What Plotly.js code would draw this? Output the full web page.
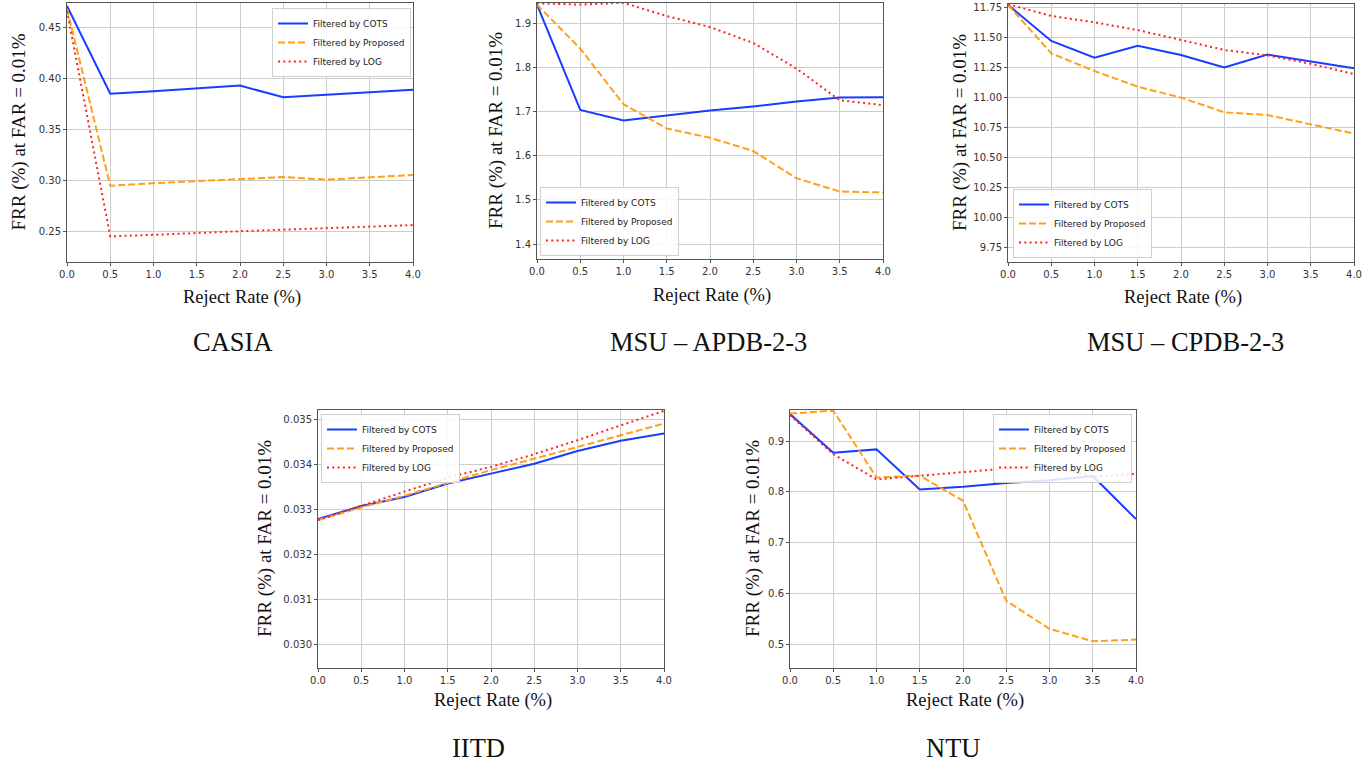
<!DOCTYPE html>
<html>
<head>
<meta charset="utf-8">
<script src="https://cdn.plot.ly/plotly-3.0.1.min.js"></script>
<style>html,body{margin:0;padding:0;background:#fff;}#chart{width:1372px;height:763px;}</style>
</head>
<body>
<div id="chart"></div>
<script>
// ---- data ----
const rejectRate = [0, 0.5, 1.0, 1.5, 2.0, 2.5, 3.0, 3.5, 4.0];
const seriesNames = ["Filtered by COTS", "Filtered by Proposed", "Filtered by LOG"];
const panelTitles = ["CASIA", "MSU – APDB-2-3", "MSU – CPDB-2-3", "IITD", "NTU"];

const casiaCOTS     = [0.471, 0.385, 0.3875, 0.390, 0.393, 0.3815, 0.384, 0.3865, 0.389];
const casiaProposed = [0.468, 0.295, 0.2975, 0.2995, 0.3015, 0.3035, 0.301, 0.303, 0.3055];
const casiaLOG      = [0.466, 0.2455, 0.247, 0.249, 0.2505, 0.252, 0.2535, 0.255, 0.2565];

const apdbCOTS     = [1.943, 1.704, 1.680, 1.691, 1.703, 1.712, 1.723, 1.732, 1.733];
const apdbProposed = [1.943, 1.843, 1.717, 1.662, 1.641, 1.611, 1.549, 1.519, 1.517];
const apdbLOG      = [1.946, 1.943, 1.947, 1.917, 1.892, 1.856, 1.798, 1.726, 1.715];

const cpdbCOTS     = [11.77, 11.47, 11.33, 11.43, 11.353, 11.25, 11.357, 11.303, 11.243];
const cpdbProposed = [11.77, 11.367, 11.22, 11.09, 10.999, 10.877, 10.854, 10.78, 10.70];
const cpdbLOG      = [11.775, 11.678, 11.625, 11.56, 11.478, 11.395, 11.35, 11.28, 11.195];

const iitdCOTS     = [0.03278, 0.03307, 0.03327, 0.03357, 0.03379, 0.03401, 0.03429, 0.03452, 0.03468];
const iitdProposed = [0.03276, 0.03304, 0.03330, 0.03358, 0.03387, 0.03412, 0.03438, 0.03463, 0.03490];
const iitdLOG      = [0.03276, 0.03308, 0.03339, 0.03370, 0.03394, 0.03422, 0.03453, 0.03486, 0.03518];

const ntuCOTS     = [0.953, 0.877, 0.8836, 0.805, 0.810, 0.8174, 0.823, 0.831, 0.7466];
const ntuProposed = [0.954, 0.9597, 0.8285, 0.832, 0.7826, 0.586, 0.531, 0.5066, 0.5098];
const ntuLOG      = [0.951, 0.874, 0.8246, 0.832, 0.838, 0.846, 0.8515, 0.830, 0.8357];

const yTicks = {
  casia: [0.25, 0.30, 0.35, 0.40, 0.45],
  apdb: [1.4, 1.5, 1.6, 1.7, 1.8, 1.9],
  cpdb: [9.75, 10.00, 10.25, 10.50, 10.75, 11.00, 11.25, 11.50, 11.75],
  iitd: [0.030, 0.031, 0.032, 0.033, 0.034, 0.035],
  ntu: [0.5, 0.6, 0.7, 0.8, 0.9]
};
const xTicks = [0, 0.5, 1.0, 1.5, 2.0, 2.5, 3.0, 3.5, 4.0];

// ---- layout helpers ----
const W = 1372, H = 763;
const colors = ["#1a3cff", "#ffa01a", "#ff2020"];
const dashes = ["solid", "7px,3px", "2px,3.3px"];

const panels = [
  {key:"casia", data:[casiaCOTS, casiaProposed, casiaLOG], px:[67,413], py:[3,262], yr:[0.2204,0.4738], fmt:".2f",
   legend:{x:411, y:8, xa:"right", ya:"top"}, ytitleX:18, xtitleY:297, capX:233, capY:342},
  {key:"apdb", data:[apdbCOTS, apdbProposed, apdbLOG], px:[537,883], py:[3,259], yr:[1.366,1.9466], fmt:".1f",
   legend:{x:540, y:256, xa:"left", ya:"bottom"}, ytitleX:496, xtitleY:296, capX:708, capY:342},
  {key:"cpdb", data:[cpdbCOTS, cpdbProposed, cpdbLOG], px:[1008,1354], py:[4,262], yr:[9.633,11.777], fmt:".2f",
   legend:{x:1013, y:258, xa:"left", ya:"bottom"}, ytitleX:960, xtitleY:297, capX:1185, capY:342},
  {key:"iitd", data:[iitdCOTS, iitdProposed, iitdLOG], px:[318,664], py:[410,668], yr:[0.02948,0.0352], fmt:".3f",
   legend:{x:321, y:414, xa:"left", ya:"top"}, ytitleX:265, xtitleY:700, capX:478, capY:748},
  {key:"ntu", data:[ntuCOTS, ntuProposed, ntuLOG], px:[790,1136], py:[410,668], yr:[0.454,0.961], fmt:".1f",
   legend:{x:1132, y:414, xa:"right", ya:"top"}, ytitleX:753, xtitleY:700, capX:953, capY:748}
];

const traces = [];
const layout = {
  width: W, height: H,
  margin: {l:0, r:0, t:0, b:0},
  paper_bgcolor: "#fff", plot_bgcolor: "#fff",
  showlegend: true,
  annotations: []
};

const serif = "Liberation Serif, Times New Roman, serif";
const sans = "DejaVu Sans, sans-serif";

panels.forEach((p, i) => {
  const n = i + 1;
  const xa = n === 1 ? "x" : "x" + n;
  const ya = n === 1 ? "y" : "y" + n;
  const legName = n === 1 ? "legend" : "legend" + n;
  p.data.forEach((vals, s) => {
    traces.push({
      type: "scatter", mode: "lines",
      x: rejectRate, y: vals,
      name: seriesNames[s],
      xaxis: xa, yaxis: ya,
      legend: legName,
      line: {color: colors[s], width: 2, dash: dashes[s]}
    });
  });
  const common = {
    showgrid: true, gridcolor: "#cccccc", gridwidth: 1,
    showline: true, linecolor: "#555", linewidth: 1, mirror: true,
    ticks: "outside", ticklen: 3, tickcolor: "#555",
    tickfont: {family: sans, size: 10, color: "#333"},
    zeroline: false, fixedrange: true
  };
  layout[n === 1 ? "xaxis" : "xaxis" + n] = Object.assign({}, common, {
    domain: [p.px[0]/W, p.px[1]/W], anchor: ya,
    range: [0, 4], tickvals: xTicks, tickformat: ".1f"
  });
  layout[n === 1 ? "yaxis" : "yaxis" + n] = Object.assign({}, common, {
    domain: [1 - p.py[1]/H, 1 - p.py[0]/H], anchor: xa,
    range: p.yr, tickvals: yTicks[p.key], tickformat: p.fmt
  });
  layout[legName] = {
    x: p.legend.x / W, y: 1 - p.legend.y / H,
    xanchor: p.legend.xa, yanchor: p.legend.ya,
    bgcolor: "rgba(255,255,255,0.85)", bordercolor: "#d0d0d0", borderwidth: 1,
    font: {family: sans, size: 9, color: "#222"},
    tracegroupgap: 0, itemwidth: 30
  };
  const xc = (p.px[0] + p.px[1]) / 2 / W;
  const yc = 1 - (p.py[0] + p.py[1]) / 2 / H;
  layout.annotations.push({
    text: "FRR (%) at FAR = 0.01%", textangle: -90,
    xref: "paper", yref: "paper", x: p.ytitleX / W, y: yc,
    xanchor: "center", yanchor: "middle", showarrow: false,
    font: {family: serif, size: 19, color: "#111"}
  });
  layout.annotations.push({
    text: "Reject Rate (%)",
    xref: "paper", yref: "paper", x: xc + 2 / W, y: 1 - p.xtitleY / H,
    xanchor: "center", yanchor: "middle", showarrow: false,
    font: {family: serif, size: 18.5, color: "#111"}
  });
  layout.annotations.push({
    text: panelTitles[i],
    xref: "paper", yref: "paper", x: p.capX / W, y: 1 - p.capY / H,
    xanchor: "center", yanchor: "middle", showarrow: false,
    font: {family: serif, size: 26.5, color: "#111"}
  });
});

Plotly.newPlot("chart", traces, layout, {displayModeBar: false, staticPlot: true});
</script>
</body>
</html>
